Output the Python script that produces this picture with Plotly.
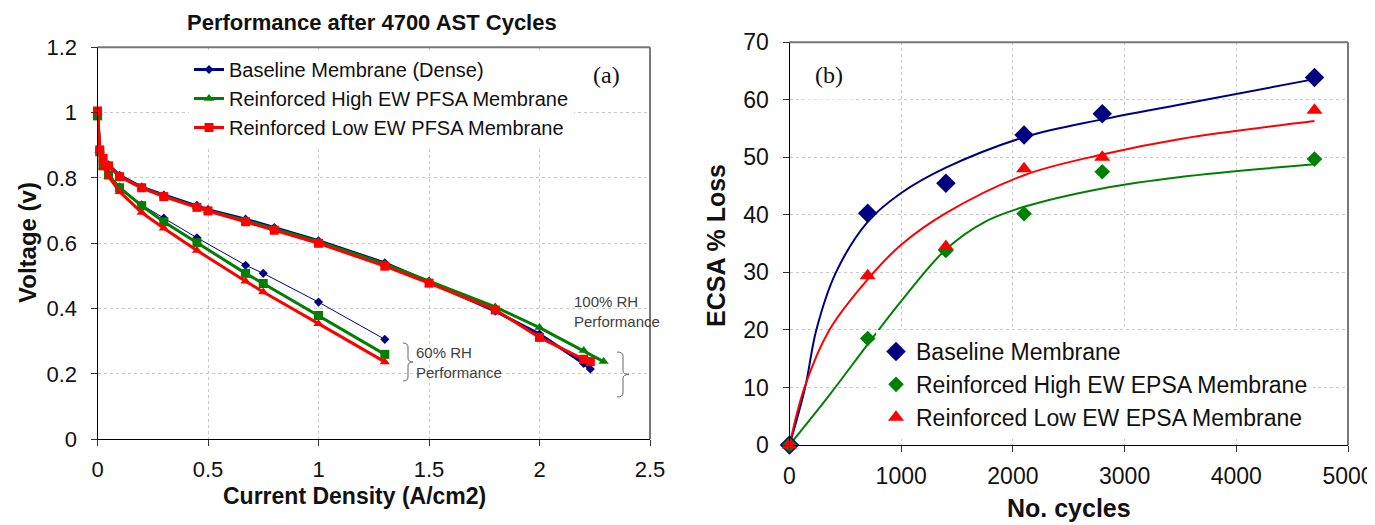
import plotly.graph_objects as go

# ---------------- data: panel (a) ----------------
cd_100 = [0, 0.01, 0.025, 0.05, 0.1, 0.2, 0.3, 0.45, 0.5, 0.67, 0.8, 1.0, 1.3, 1.5, 1.8, 2.0, 2.2, 2.23]
cd_100_high = [0, 0.01, 0.025, 0.05, 0.1, 0.2, 0.3, 0.45, 0.5, 0.67, 0.8, 1.0, 1.3, 1.5, 1.8, 2.0, 2.2, 2.29]
v_100_base = [1.0, 0.89, 0.862, 0.84, 0.808, 0.772, 0.748, 0.716, 0.703, 0.674, 0.648, 0.608, 0.54, 0.482, 0.392, 0.322, 0.232, 0.215]
v_100_high = [0.99, 0.885, 0.86, 0.838, 0.805, 0.77, 0.745, 0.713, 0.70, 0.67, 0.645, 0.605, 0.537, 0.485, 0.405, 0.342, 0.272, 0.238]
v_100_low = [1.005, 0.886, 0.86, 0.837, 0.804, 0.77, 0.743, 0.71, 0.699, 0.666, 0.64, 0.6, 0.53, 0.478, 0.396, 0.312, 0.245, 0.238]

cd_60 = [0, 0.01, 0.025, 0.05, 0.1, 0.2, 0.3, 0.45, 0.67, 0.75, 1.0, 1.3]
v_60_base = [1.0, 0.885, 0.84, 0.812, 0.772, 0.718, 0.677, 0.617, 0.533, 0.508, 0.42, 0.306]
v_60_high = [0.99, 0.88, 0.837, 0.809, 0.77, 0.715, 0.666, 0.602, 0.508, 0.477, 0.379, 0.26]
v_60_low = [1.0, 0.885, 0.835, 0.805, 0.758, 0.694, 0.646, 0.578, 0.484, 0.451, 0.354, 0.237]

names_a = ["Baseline Membrane (Dense)", "Reinforced High EW PFSA Membrane", "Reinforced Low EW PFSA Membrane"]

# ---------------- data: panel (b) ----------------
cycles = [0, 700, 1400, 2100, 2800, 4700]
ecsa_base = [0, 40.3, 45.5, 53.9, 57.6, 63.9]
ecsa_high = [0, 18.5, 33.8, 40.2, 47.5, 49.7]
ecsa_low = [0, 29.4, 34.5, 48.0, 50.0, 58.2]

fit_base_x = [0, 140, 240, 416, 700, 1000, 1400, 2100, 2800, 3500, 4700]
fit_base_y = [0, 10, 20, 30, 38.8, 43.8, 48.2, 53.5, 56.6, 59.2, 63.6]
fit_low_x = [0, 134, 357, 700, 1000, 1400, 2100, 2800, 3500, 4700]
fit_low_y = [0, 10, 20, 28.8, 34.8, 40.3, 46.9, 50.5, 53.2, 56.3]
fit_high_x = [0, 350, 700, 1000, 1400, 1750, 2100, 2800, 3500, 4700]
fit_high_y = [0, 8.5, 17.5, 25.0, 34.0, 38.8, 41.4, 44.6, 46.6, 48.8]

names_b = ["Baseline Membrane", "Reinforced High EW EPSA Membrane", "Reinforced Low EW EPSA Membrane"]

NAVY, GREEN, RED = "#000080", "#008000", "#FF0000"
OFF = 8  # page body margin of the html page
W, H = 1375 - OFF, 525 - OFF
SANS = "Liberation Sans, Arial, sans-serif"
SERIF = "Liberation Serif, Times New Roman, serif"

# plot-area pixel frames (left, right, top, bottom)
FRAME_A = (97.5, 650, 47.3, 439.3)
FRAME_B = (789.5, 1348, 42.3, 445)


def px(x):
    return (x - OFF) / W


def py(y):
    return 1 - (y - OFF) / H


fig = go.Figure()

# ----- panel (a) traces -----
fig.add_trace(go.Scatter(x=cd_100, y=v_100_base, mode="lines+markers", name=names_a[0],
                         line=dict(color=NAVY, width=3), marker=dict(symbol="diamond", size=7, color=NAVY),
                         legend="legend", legendgroup="a1", xaxis="x", yaxis="y", cliponaxis=False))
fig.add_trace(go.Scatter(x=cd_60, y=v_60_base, mode="lines+markers", showlegend=False,
                         line=dict(color=NAVY, width=1), marker=dict(symbol="diamond", size=7, color=NAVY),
                         xaxis="x", yaxis="y", cliponaxis=False))
fig.add_trace(go.Scatter(x=cd_100_high, y=v_100_high, mode="lines+markers", name=names_a[1],
                         line=dict(color=GREEN, width=3), marker=dict(symbol="triangle-up", size=9, color=GREEN),
                         legend="legend", legendgroup="a2", xaxis="x", yaxis="y", cliponaxis=False))
fig.add_trace(go.Scatter(x=cd_60, y=v_60_high, mode="lines+markers", showlegend=False,
                         line=dict(color=GREEN, width=3), marker=dict(symbol="square", size=9, color=GREEN),
                         xaxis="x", yaxis="y", cliponaxis=False))
fig.add_trace(go.Scatter(x=cd_100, y=v_100_low, mode="lines+markers", name=names_a[2],
                         line=dict(color=RED, width=3), marker=dict(symbol="square", size=9, color=RED),
                         legend="legend", legendgroup="a3", xaxis="x", yaxis="y", cliponaxis=False))
fig.add_trace(go.Scatter(x=cd_60, y=v_60_low, mode="lines+markers", showlegend=False,
                         line=dict(color=RED, width=3), marker=dict(symbol="triangle-up", size=9, color=RED),
                         xaxis="x", yaxis="y", cliponaxis=False))

# ----- panel (b) traces -----
for fx, fy, c in [(fit_base_x, fit_base_y, NAVY), (fit_low_x, fit_low_y, RED), (fit_high_x, fit_high_y, GREEN)]:
    fig.add_trace(go.Scatter(x=fx, y=fy, mode="lines", showlegend=False,
                             line=dict(color=c, width=2, shape="spline", smoothing=1.0),
                             xaxis="x2", yaxis="y2"))
fig.add_trace(go.Scatter(x=cycles, y=ecsa_base, mode="markers", name=names_b[0],
                         marker=dict(symbol="diamond", size=15, color=NAVY),
                         legend="legend2", legendgroup="b1", xaxis="x2", yaxis="y2", cliponaxis=False))
fig.add_trace(go.Scatter(x=cycles, y=ecsa_high, mode="markers", name=names_b[1],
                         marker=dict(symbol="diamond", size=12, color=GREEN),
                         legend="legend2", legendgroup="b2", xaxis="x2", yaxis="y2", cliponaxis=False))
fig.add_trace(go.Scatter(x=cycles, y=ecsa_low, mode="markers", name=names_b[2],
                         marker=dict(symbol="triangle-up", size=14, color=RED),
                         legend="legend2", legendgroup="b3", xaxis="x2", yaxis="y2", cliponaxis=False))

axis_common = dict(
    showgrid=True, gridcolor="#c8c8c8", griddash="3px,3px", gridwidth=1,
    zeroline=False, showline=True, linecolor="black", linewidth=1,
    ticks="outside", ticklen=6, tickcolor="#333", tickwidth=1,
    mirror=False, automargin=False, ticklabeloverflow="allow",
)

fig.update_layout(
    width=W, height=H,
    margin=dict(l=0, r=0, t=0, b=0, autoexpand=False),
    paper_bgcolor="white", plot_bgcolor="white",
    showlegend=True,
    xaxis=dict(domain=[px(FRAME_A[0]), px(FRAME_A[1])], range=[0, 2.5], tick0=0, dtick=0.5, anchor="y",
               tickfont=dict(family=SANS, size=22, color="#111"), ticklabelstandoff=4, **axis_common),
    yaxis=dict(domain=[py(FRAME_A[3]), py(FRAME_A[2])], range=[0, 1.2], tick0=0, dtick=0.2, anchor="x",
               tickfont=dict(family=SANS, size=22, color="#111"), ticklabelstandoff=9, **axis_common),
    xaxis2=dict(domain=[px(FRAME_B[0]), px(FRAME_B[1])], range=[0, 5000], tick0=0, dtick=1000, anchor="y2",
                tickfont=dict(family=SANS, size=23, color="#111"), ticklabelstandoff=4, **axis_common),
    yaxis2=dict(domain=[py(FRAME_B[3]), py(FRAME_B[2])], range=[0, 70], tick0=0, dtick=10, anchor="x2",
                tickfont=dict(family=SANS, size=23, color="#111"), ticklabelstandoff=9, **axis_common),
    legend=dict(x=px(189), y=py(50), xanchor="left", yanchor="top", bgcolor="white",
                font=dict(family=SANS, size=20, color="#111"), tracegroupgap=0,
                traceorder="grouped", itemwidth=30),
    legend2=dict(x=px(876), y=py(330), xanchor="left", yanchor="top", bgcolor="white",
                 font=dict(family=SANS, size=23, color="#111"), tracegroupgap=0,
                 traceorder="grouped", itemwidth=30),
)

# top / right borders in grey (paper coords so they are not clipped)
for (l, r, t, b) in [FRAME_A, FRAME_B]:
    fig.add_shape(type="line", xref="paper", yref="paper", x0=px(l), x1=px(r), y0=py(t), y1=py(t),
                  line=dict(color="#777777", width=2))
    fig.add_shape(type="line", xref="paper", yref="paper", x0=px(r), x1=px(r), y0=py(t), y1=py(b),
                  line=dict(color="#777777", width=2))


# curly braces
def brace(a, b, c, y0, y1):
    ym = (y0 + y1) / 2
    r = 4
    pts = (f"M {px(a)},{py(y0)} Q {px(b)},{py(y0)} {px(b)},{py(y0 + r)} "
           f"L {px(b)},{py(ym - r)} Q {px(b)},{py(ym)} {px(c)},{py(ym)} "
           f"Q {px(b)},{py(ym)} {px(b)},{py(ym + r)} "
           f"L {px(b)},{py(y1 - r)} Q {px(b)},{py(y1)} {px(a)},{py(y1)}")
    return pts


fig.add_shape(type="path", xref="paper", yref="paper", path=brace(403, 408, 413, 343, 381),
              line=dict(color="#666", width=1))
fig.add_shape(type="path", xref="paper", yref="paper", path=brace(617, 623, 629, 352, 397),
              line=dict(color="#666", width=1))


def ann(text, x, y, size, bold=False, family=SANS, angle=0, xanchor="center", color="#111", align="center",
        bg=None, pad=1):
    fig.add_annotation(text=f"<b>{text}</b>" if bold else text, x=px(x), y=py(y), xref="paper", yref="paper",
                       showarrow=False, xanchor=xanchor, yanchor="middle", textangle=angle, align=align,
                       bgcolor=bg, borderpad=pad,
                       font=dict(family=family, size=size, color=color))


ann("Performance after 4700 AST Cycles", 372, 22, 22, bold=True)
ann("Current Density (A/cm2)", 354, 496, 23, bold=True)
ann("Voltage (v)", 27, 243, 24, bold=True, angle=-90)
ann("ECSA % Loss", 716, 245, 25, bold=True, angle=-90)
ann("No. cycles", 1069, 508, 25, bold=True)
ann("(a)", 606, 75, 24, family=SERIF)
ann("(b)", 829, 75, 24, family=SERIF, bg="white", pad=11)
ann("100% RH<br>Performance", 572, 311, 15, xanchor="left", color="#404040", align="left")
ann("60% RH<br>Performance", 414, 362, 15, xanchor="left", color="#404040", align="left")

fig.write_html("out.html")
